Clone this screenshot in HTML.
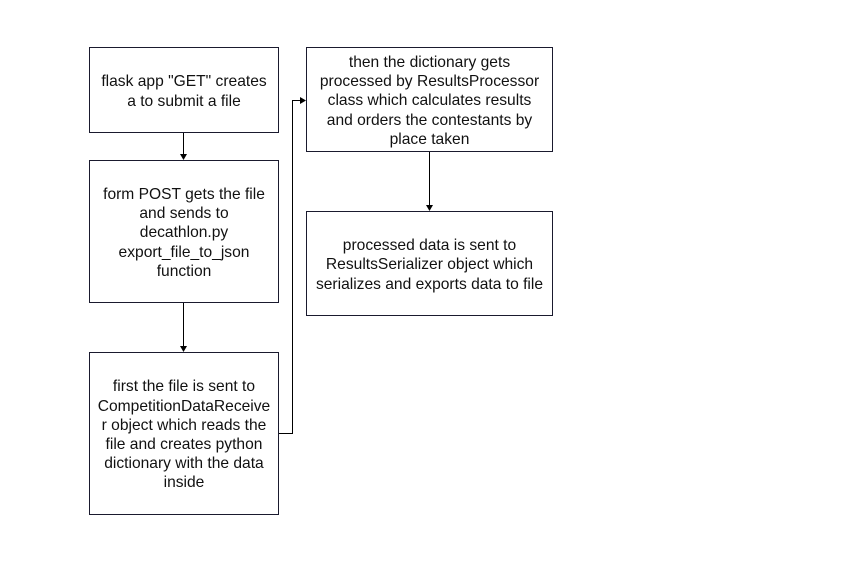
<!DOCTYPE html>
<html><head><style>
body{margin:0;width:867px;height:587px;background:#fff;position:relative;overflow:hidden;font-family:"Liberation Sans",sans-serif;}
.b{position:absolute;box-sizing:border-box;border:1px solid #1a1a2e;display:flex;align-items:center;justify-content:center;text-align:center;font-size:15.6px;line-height:19.2px;color:#111;padding:3px 0 0 0;white-space:nowrap;}
svg{position:absolute;left:0;top:0}
</style></head><body>
<svg width="867" height="587">
<g stroke="#000" stroke-width="1" fill="none">
<path d="M183.5 132V154"/>
<path d="M183.5 302V346"/>
<path d="M278 433.5H292.5V100.5H300"/>
<path d="M429.5 151V205"/>
</g>
<g fill="#000">
<path d="M180 154L187 154L183.5 160Z"/>
<path d="M180 346L187 346L183.5 352Z"/>
<path d="M300 97L306 100.5L300 104Z"/>
<path d="M426 205L433 205L429.5 211Z"/>
</g>
</svg>
<div class="b" style="left:89px;top:47px;width:190px;height:86px"><div>flask app "GET" creates<br>a to submit a file</div></div>
<div class="b" style="left:89px;top:160px;width:190px;height:143px"><div>form POST gets the file<br>and sends to<br>decathlon.py<br>export_file_to_json<br>function</div></div>
<div class="b" style="left:89px;top:352px;width:190px;height:163px"><div>first the file is sent to<br>CompetitionDataReceive<br>r object which reads the<br>file and creates python<br>dictionary with the data<br>inside</div></div>
<div class="b" style="left:306px;top:47px;width:247px;height:105px"><div>then the dictionary gets<br>processed by ResultsProcessor<br>class which calculates results<br>and orders the contestants by<br>place taken</div></div>
<div class="b" style="left:306px;top:211px;width:247px;height:105px"><div>processed data is sent to<br>ResultsSerializer object which<br>serializes and exports data to file</div></div>
</body></html>
